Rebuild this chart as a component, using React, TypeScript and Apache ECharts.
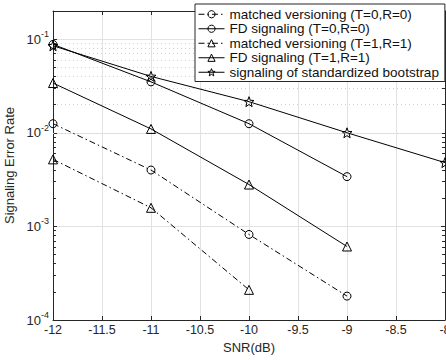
import React, { useEffect, useRef } from "react";
import * as echarts from "echarts";

const snr = [-12, -11, -10, -9, -8];
const mv00 = [0.0125, 0.0040, 0.00082, 0.00018];
const fd00 = [0.088, 0.035, 0.0125, 0.0034];
const mv11 = [0.0052, 0.00158, 0.00021];
const fd11 = [0.034, 0.011, 0.0028, 0.00061];
const boot = [0.085, 0.040, 0.0215, 0.010, 0.0048];
const seriesNames = [
  "matched versioning (T=0,R=0)",
  "FD signaling (T=0,R=0)",
  "matched versioning (T=1,R=1)",
  "FD signaling (T=1,R=1)",
  "signaling of standardized bootstrap",
];
const xTicks = { min: -12, max: -8, step: 0.5 };
const yRange = { min: 1e-4, max: 0.2 };

const STAR = "path://M12,1 L14.9,8.6 L23,8.9 L16.7,13.9 L18.9,21.8 L12,17.3 L5.1,21.8 L7.3,13.9 L1,8.9 L9.1,8.6 Z";
const FONT = "Liberation Sans, Arial, Helvetica, sans-serif";
const TXT = "#262626";

export default function App() {
  const ref = useRef<HTMLDivElement>(null);
  useEffect(() => {
    if (!ref.current) return;
    const chart = echarts.init(ref.current, undefined, { renderer: "svg" });

    const minorVals: number[] = [];
    for (let e = -4; e <= -2; e++) {
      for (let k = 2; k <= 9; k++) minorVals.push(parseFloat((k * Math.pow(10, e)).toPrecision(3)));
    }
    const tickLen = 0.03;
    const minorGrid = minorVals.map((v) => ({ yAxis: v }));
    const minorTicks: any[] = [];
    minorVals.forEach((v) => {
      minorTicks.push([
        { coord: [xTicks.min, v], lineStyle: { color: TXT, type: "solid", width: 1 } },
        { coord: [xTicks.min + tickLen, v] },
      ]);
      minorTicks.push([
        { coord: [xTicks.max - tickLen, v], lineStyle: { color: TXT, type: "solid", width: 1 } },
        { coord: [xTicks.max, v] },
      ]);
    });

    const mk = (x: number[], y: number[]) => y.map((v, i) => [x[i], v]);
    const markerStyle = { color: "transparent", borderColor: "#000", borderWidth: 1 };
    const dashDot = [6, 3, 1.5, 3];

    const baseX = {
      type: "value" as const,
      min: xTicks.min,
      max: xTicks.max,
      interval: xTicks.step,
      axisLine: { show: true, onZero: false, lineStyle: { color: TXT, width: 1 } },
      axisTick: { show: true, inside: true, length: 4, lineStyle: { color: TXT } },
    };
    const baseY = {
      type: "log" as const,
      logBase: 10,
      min: yRange.min,
      max: yRange.max,
      axisLine: { show: true, onZero: false, lineStyle: { color: TXT, width: 1 } },
      axisTick: { show: true, inside: true, length: 4, lineStyle: { color: TXT } },
    };

    chart.setOption({
      animation: false,
      grid: { left: 53, right: 1, top: 11, bottom: 40, outerBoundsMode: "none", containLabel: false },
      legend: {
        orient: "vertical",
        left: 195,
        top: 4,
        itemWidth: 26,
        itemHeight: 9,
        itemGap: 0,
        padding: [3, 6, 2, 3],
        borderColor: TXT,
        borderWidth: 1,
        borderRadius: 0,
        backgroundColor: "#fff",
        itemStyle: { color: "transparent", borderColor: "#000", borderWidth: 1 },
        lineStyle: { width: 1, color: "#000" },
        textStyle: { fontSize: 13.5, color: "#111", fontFamily: FONT, lineHeight: 14.5 },
        data: seriesNames,
      },
      xAxis: [
        {
          ...baseX,
          position: "bottom",
          name: "SNR(dB)",
          nameLocation: "middle",
          nameGap: 21,
          nameTextStyle: { fontSize: 13, color: TXT, fontFamily: FONT },
          axisLabel: { color: TXT, fontSize: 12.5, fontFamily: FONT, margin: 3 },
          splitLine: { show: true, lineStyle: { color: "#e2e2e2", width: 1 } },
        },
        {
          ...baseX,
          position: "top",
          axisLabel: { show: false },
          splitLine: { show: false },
        },
      ],
      yAxis: [
        {
          ...baseY,
          position: "left",
          name: "Signaling Error Rate",
          nameLocation: "middle",
          nameGap: 32,
          nameTextStyle: { fontSize: 13, color: TXT, fontFamily: FONT },
          axisLabel: {
            color: TXT,
            fontFamily: FONT,
            margin: 4,
            showMaxLabel: false,
            formatter: (v: number) => `{b|10}{s|${Math.round(Math.log10(v))}}`,
            rich: {
              b: { fontSize: 13, color: TXT, fontFamily: FONT },
              s: { fontSize: 9, color: TXT, fontFamily: FONT, padding: [0, 0, 10, 0] },
            },
          },
          splitLine: { show: true, lineStyle: { color: "#e2e2e2", width: 1 } },
        },
        {
          ...baseY,
          position: "right",
          axisLabel: { show: false },
          splitLine: { show: false },
        },
      ],
      series: [
        {
          name: "grid-minor",
          type: "line",
          data: [],
          silent: true,
          markLine: {
            silent: true,
            symbol: ["none", "none"],
            label: { show: false },
            lineStyle: { color: "#d2d2d2", type: [1, 3], width: 1 },
            data: [...minorGrid, ...minorTicks],
            z: 1,
          },
        },
        {
          name: seriesNames[0],
          type: "line",
          data: mk(snr, mv00),
          symbol: "circle",
          symbolSize: 8,
          itemStyle: markerStyle,
          lineStyle: { color: "#000", width: 1, type: dashDot },
          z: 3,
        },
        {
          name: seriesNames[1],
          type: "line",
          data: mk(snr, fd00),
          symbol: "circle",
          symbolSize: 8,
          itemStyle: markerStyle,
          lineStyle: { color: "#000", width: 1, type: "solid" },
          z: 3,
        },
        {
          name: seriesNames[2],
          type: "line",
          data: mk(snr, mv11),
          symbol: "triangle",
          symbolSize: 9,
          itemStyle: markerStyle,
          lineStyle: { color: "#000", width: 1, type: dashDot },
          z: 3,
        },
        {
          name: seriesNames[3],
          type: "line",
          data: mk(snr, fd11),
          symbol: "triangle",
          symbolSize: 9,
          itemStyle: markerStyle,
          lineStyle: { color: "#000", width: 1, type: "solid" },
          z: 3,
        },
        {
          name: seriesNames[4],
          type: "line",
          data: mk(snr, boot),
          symbol: STAR,
          symbolSize: 10,
          itemStyle: markerStyle,
          lineStyle: { color: "#000", width: 1, type: "solid" },
          z: 3,
        },
      ],
    });
    return () => chart.dispose();
  }, []);
  return (
    <div
      ref={ref}
      style={{ position: "fixed", left: 0, top: 0, width: 446, height: 360, background: "#fff" }}
    />
  );
}
